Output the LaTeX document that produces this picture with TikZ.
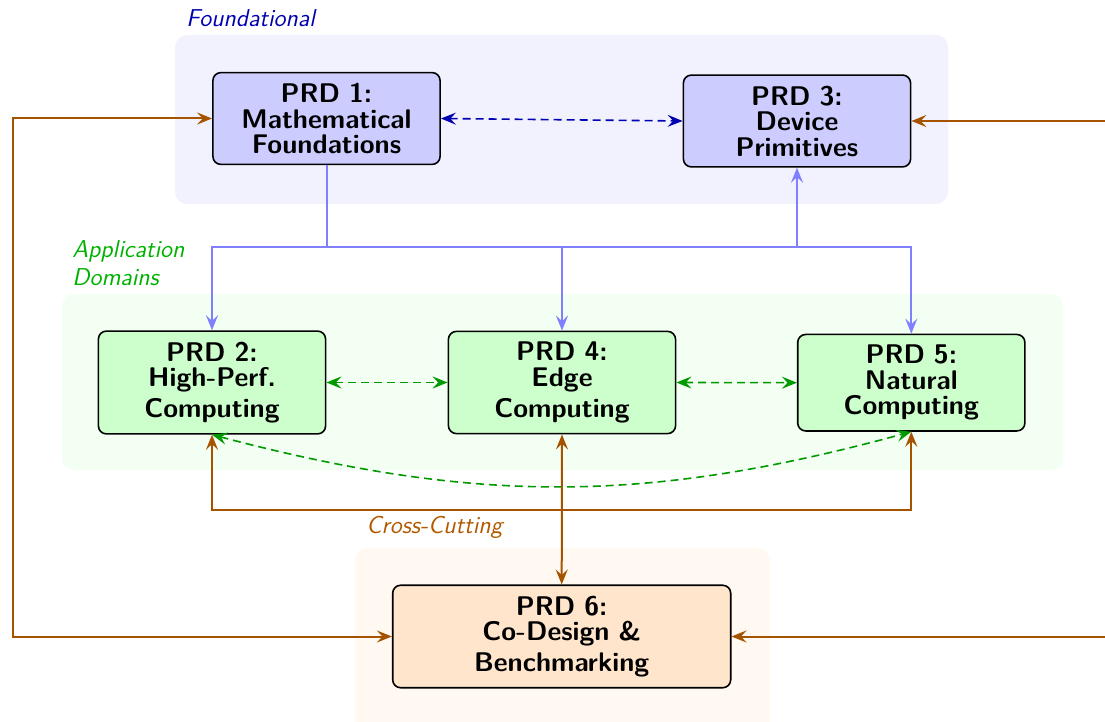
\documentclass[tikz,border=0pt]{standalone}
\usepackage{fontspec}
\usetikzlibrary{arrows.meta}
\newcommand\prdfont{\sffamily\bfseries\fontsize{13.5}{12.75}\selectfont\lineskip=3.3pt\relax\lineskiplimit=2pt\relax}
\newcommand\grplabelfont{\sffamily\itshape\fontsize{12.2}{14.2}\selectfont}
\begin{document}
\begin{tikzpicture}[x=0.5pt,y=-0.5pt,
  >={Stealth[length=7.5pt,width=6pt,inset=2.8pt]},
  prdbox/.style={draw=black, thick, rounded corners=4pt, align=center,
    text width=103pt, inner sep=5.3pt, font=\prdfont},
  bluebox/.style={prdbox, fill=blue!20},
  greenbox/.style={prdbox, fill=green!20},
  orangebox/.style={prdbox, fill=orange!20, text width=158.4pt},
  grouplabel/.style={inner sep=0pt, align=left, font=\grplabelfont},
  bluelink/.style={draw=blue!50, line width=1pt},
  bluedash/.style={draw=blue!70!black, thick, dash pattern={on 4pt off 2.5pt}},
  greendash/.style={draw=green!60!black, thick, dash pattern={on 4pt off 2.5pt}},
  orangelink/.style={draw=orange!65!black, line width=1pt},
  groupbg/.style={rounded corners=6pt}
]
\useasboundingbox (0,0) rectangle (1105,722);

% group backgrounds
\fill[groupbg, blue!5] (175,35) rectangle (948,204);
\fill[groupbg, green!5] (62,294) rectangle (1063,470);
\fill[groupbg, orange!5] (355,548) rectangle (770,760);

% group labels
\node[grouplabel, text=blue!70!black, anchor=base west] (lfound) at (186,27) {Foundational};
\node[grouplabel, text=green!70!black, anchor=north west] (lapp) at (72,240) {Application\\Domains};
\node[grouplabel, text=orange!70!black, anchor=base west] (lcross) at (366,533.5) {Cross-Cutting};

% nodes
\node[bluebox] (p1) at (326.5,118.5) {PRD 1:\\Mathematical\\Foundations};
\node[bluebox] (p3) at (797,121) {PRD 3:\\Device\\Primitives};
\node[greenbox] (p2) at (212,382.5) {PRD 2:\\High-Perf.\\Computing};
\node[greenbox] (p4) at (562,382.5) {PRD 4:\\Edge\\Computing};
\node[greenbox] (p5) at (911.3,382.7) {PRD 5:\\Natural\\Computing};
\node[orangebox] (p6) at (561.7,636.5) {PRD 6:\\Co-Design \&\\Benchmarking};

% helper coordinates
\coordinate (bus) at (0,247);
\coordinate (obus) at (0,510);
\coordinate (lx) at (12.5,0);
\coordinate (rx) at (1125,0);

% blue distribution
\draw[bluelink] (p1.south) -- (p1.south |- bus);
\draw[bluelink,->] (p1.south |- bus) -| (p2.north);
\draw[bluelink,->] (p1.south |- bus) -| (p4.north);
\draw[bluelink,->] (p1.south |- bus) -| (p5.north);
\draw[bluelink,->] (p3.south |- bus) -- (p3.south);

% blue dashed
\draw[bluedash,<->] (p1.east) -- (p3.west);

% green dashed
\draw[greendash,<->] (p2.east) -- (p4.west);
\draw[greendash,<->] (p4.east) -- (p5.west);
\draw[greendash,<->] (p2.south) to[bend right=15] (p5.south);

% orange
\draw[orangelink,<->] (p4.south) -- (p6.north);
\draw[orangelink,->] (p6.north |- obus) -| (p2.south);
\draw[orangelink,->] (p6.north |- obus) -| (p5.south);
\draw[orangelink,<->] (p1.west) -- (lx |- p1.west) -- (lx |- p6.west) -- (p6.west);
\draw[orangelink,<->] (p3.east) -- (rx |- p3.east) -- (rx |- p6.east) -- (p6.east);
\end{tikzpicture}
\end{document}
